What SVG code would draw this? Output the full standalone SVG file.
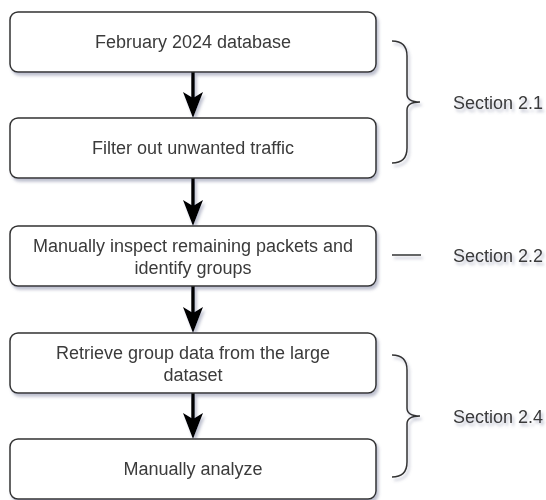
<svg xmlns="http://www.w3.org/2000/svg" width="546" height="500" viewBox="0 0 546 500">
  <defs>
    <filter id="sh" x="-10%" y="-10%" width="125%" height="140%">
      <feDropShadow dx="2" dy="3" stdDeviation="1.6" flood-color="#6f7494" flood-opacity="0.45"/>
    </filter>
    <marker id="ah" viewBox="0 0 26 20" refX="6" refY="10" markerWidth="26" markerHeight="20" markerUnits="userSpaceOnUse" orient="auto">
      <path d="M0,0 L6,10 L0,20 L26,10 Z" fill="#000"/>
    </marker>
    <style>
      .box { fill: #fff; stroke: #333; stroke-width: 1.5; }
      .lbl { font-family: "Liberation Sans", Arial, sans-serif; font-size: 18px; fill: #3a3a3a; text-anchor: middle; }
      .sec { font-family: "Liberation Sans", Arial, sans-serif; font-size: 18px; fill: #3a3a3a; }
      .br { fill: none; stroke: #333; stroke-width: 1.5; }
      .edge { fill: none; stroke: #000; stroke-width: 3.5; }
    </style>
  </defs>
  <g filter="url(#sh)">
    <g id="connectors">
      <path class="edge" d="M193,72 L193,98" marker-end="url(#ah)"/>
      <path class="edge" d="M193,178 L193,206" marker-end="url(#ah)"/>
      <path class="edge" d="M193,286 L193,313" marker-end="url(#ah)"/>
      <path class="edge" d="M193,393 L193,419" marker-end="url(#ah)"/>
    </g>
    <g id="n1">
      <rect class="box" x="10" y="12" width="366" height="60" rx="8"/>
      <text class="lbl" x="193" y="48">February 2024 database</text>
    </g>
    <g id="n2">
      <rect class="box" x="10" y="118" width="366" height="60" rx="8"/>
      <text class="lbl" x="193" y="154">Filter out unwanted traffic</text>
    </g>
    <g id="n3">
      <rect class="box" x="10" y="226" width="366" height="60" rx="8"/>
      <text class="lbl" x="193" y="251.5">Manually inspect remaining packets and</text>
      <text class="lbl" x="193" y="274">identify groups</text>
    </g>
    <g id="n4">
      <rect class="box" x="10" y="333" width="366" height="60" rx="8"/>
      <text class="lbl" x="193" y="358.5">Retrieve group data from the large</text>
      <text class="lbl" x="193" y="381">dataset</text>
    </g>
    <g id="n5">
      <rect class="box" x="10" y="439" width="366" height="60" rx="8"/>
      <text class="lbl" x="193" y="475">Manually analyze</text>
    </g>
    <g id="s21">
      <path class="br" d="M392,41 Q407,41 407,56 L407,94 Q407,102 420,102 Q407,102 407,110 L407,148 Q407,163 392,163"/>
      <text class="sec" x="453" y="108.5">Section 2.1</text>
    </g>
    <g id="s22">
      <path class="br" d="M392,255 L421,255"/>
      <text class="sec" x="453" y="261.5">Section 2.2</text>
    </g>
    <g id="s24">
      <path class="br" d="M392,355 Q407,355 407,370 L407,408 Q407,416 420,416 Q407,416 407,424 L407,462 Q407,477 392,477"/>
      <text class="sec" x="453" y="422.5">Section 2.4</text>
    </g>
  </g>
</svg>
